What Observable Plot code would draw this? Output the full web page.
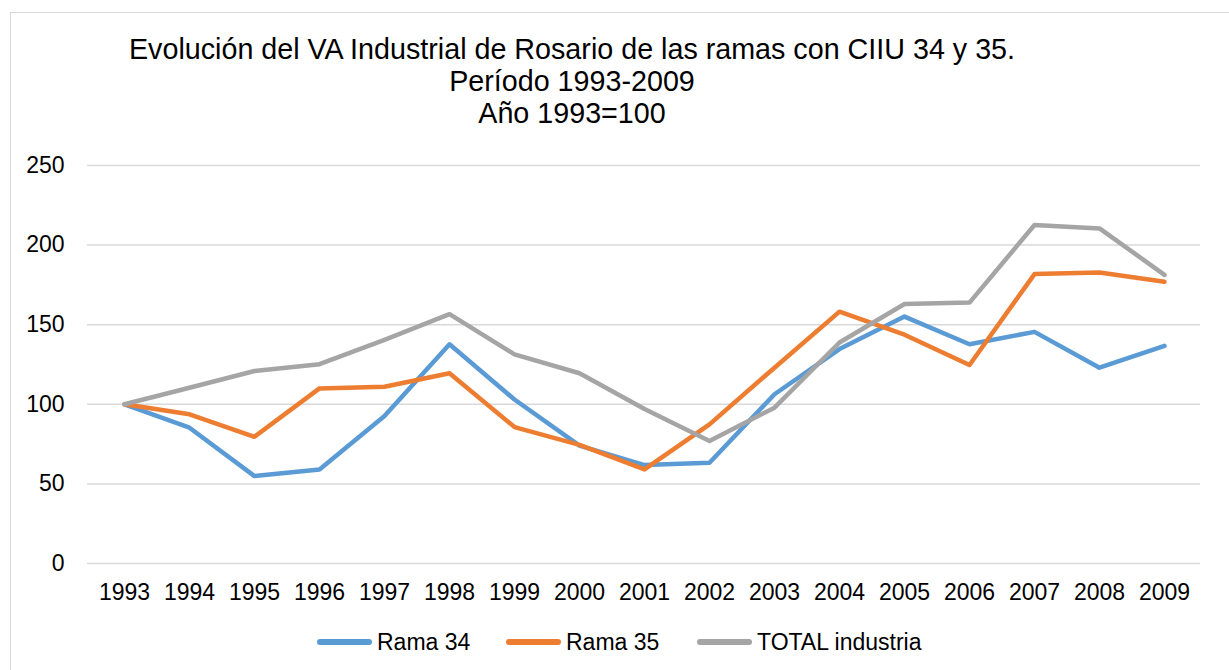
<!DOCTYPE html>
<html>
<head>
<meta charset="utf-8">
<script src="https://cdn.jsdelivr.net/npm/d3@7"></script>
<script src="https://cdn.jsdelivr.net/npm/@observablehq/plot@0.6"></script>
<style>
  html, body { margin: 0; padding: 0; background: #fff; }
  body { width: 1229px; height: 670px; position: relative; overflow: hidden; font-family: "Liberation Sans", Arial, sans-serif; }
  #frame { position: absolute; left: 10px; top: 12px; width: 1240px; height: 700px; border: 1px solid #d9d9d9; box-sizing: border-box; }
  #title { position: absolute; left: 0; width: 1144px; top: 33px; text-align: center; font-size: 28.7px; line-height: 32px; color: #000; }
  #chart { position: absolute; left: 0; top: 150px; }
  #legend { position: absolute; top: 628px; left: 0; width: 1229px; height: 28px; }
  .item { position: absolute; top: 0; font-size: 23px; line-height: 28px; color: #000; display: flex; align-items: center; }
  .sw { display: inline-block; width: 55px; height: 6px; border-radius: 3px; margin-right: 5px; }
</style>
</head>
<body>
<div id="frame"></div>
<div id="title">Evolución del VA Industrial de Rosario de las ramas con CIIU 34 y 35.<br>Período 1993-2009<br>Año 1993=100</div>
<div id="chart"></div>
<div id="legend"></div>
<script>
const years = [1993,1994,1995,1996,1997,1998,1999,2000,2001,2002,2003,2004,2005,2006,2007,2008,2009];
const rama34 = [100, 85.3, 54.9, 59.1, 92.6, 137.7, 103, 74, 61.8, 63.3, 106.3, 134.7, 155.1, 137.7, 145.5, 123, 136.7];
const rama35 = [100, 93.7, 79.6, 110, 111, 119.5, 85.7, 74.5, 59.1, 87.4, 123, 158.2, 143.7, 124.7, 181.8, 182.8, 177];
const totalIndustria = [100, 110.4, 120.9, 125.2, 140.5, 156.6, 131.4, 119.5, 97, 76.9, 97.9, 138.8, 163, 163.9, 212.6, 210.5, 181.3];
const seriesNames = ["Rama 34", "Rama 35", "TOTAL industria"];
const seriesColors = ["#5B9BD5", "#ED7D31", "#A5A5A5"];
const yTicks = [0, 50, 100, 150, 200, 250];

const seriesValues = [rama34, rama35, totalIndustria];
const rows = [];
seriesNames.forEach((name, s) => {
  years.forEach((yr, i) => rows.push({ year: String(yr), value: seriesValues[s][i], series: name }));
});

const chart = Plot.plot({
  width: 1229,
  height: 460,
  marginLeft: 87,
  marginRight: 29,
  marginTop: 15,
  marginBottom: 47,
  style: { fontFamily: "'Liberation Sans', Arial, sans-serif", fontSize: "23px", color: "#000", background: "transparent", overflow: "visible" },
  x: { type: "point", domain: years.map(String), padding: 0.5, label: null, tickSize: 0, tickPadding: 20 },
  y: { domain: [0, 250], ticks: yTicks, label: null, tickSize: 0, tickPadding: 23 },
  color: { domain: seriesNames, range: seriesColors },
  marks: [
    Plot.gridY(yTicks, { stroke: "#d9d9d9", strokeOpacity: 1, strokeWidth: 1.5 }),
    Plot.axisY({ ticks: yTicks, tickSize: 0, tickPadding: 23, label: null, fontSize: 23 }),
    Plot.axisX({ tickSize: 0, tickPadding: 20, label: null, fontSize: 23 }),
    Plot.line(rows, { x: "year", y: "value", z: "series", stroke: "series", strokeWidth: 4.5, strokeLinejoin: "round", strokeLinecap: "round" })
  ]
});
document.getElementById("chart").appendChild(chart);

const legend = document.getElementById("legend");
const lefts = [317, 506, 697];
seriesNames.forEach((name, i) => {
  const d = document.createElement("div");
  d.className = "item";
  d.style.left = lefts[i] + "px";
  const sw = document.createElement("span");
  sw.className = "sw";
  sw.style.background = seriesColors[i];
  d.appendChild(sw);
  d.appendChild(document.createTextNode(name));
  legend.appendChild(d);
});
</script>
</body>
</html>
